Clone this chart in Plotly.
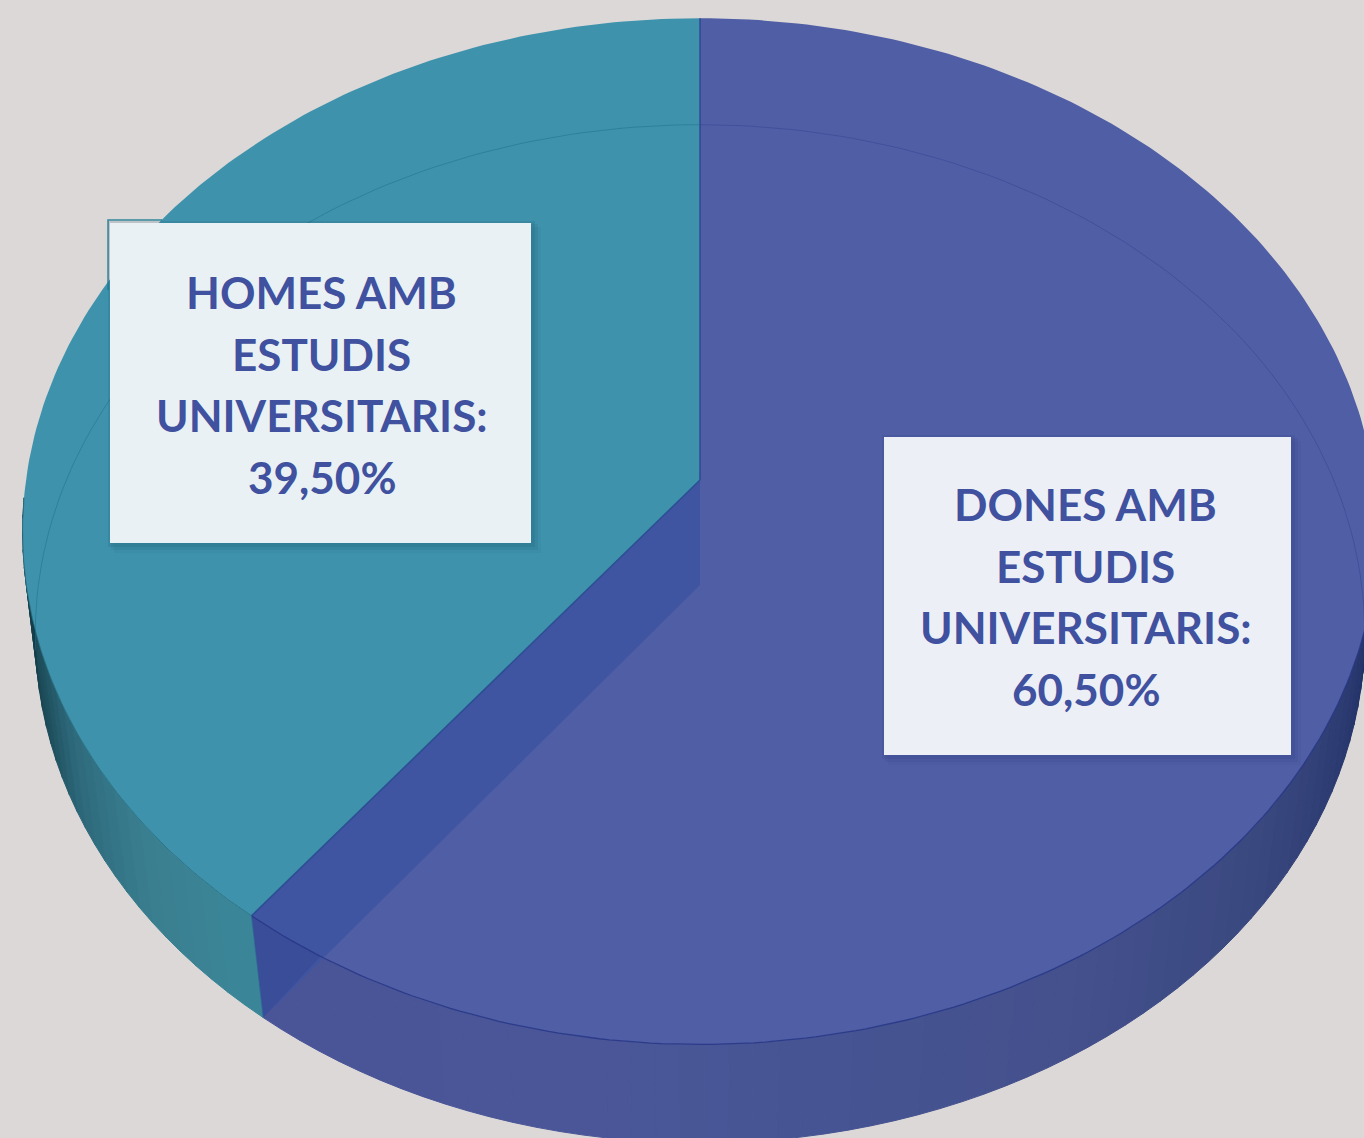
import numpy as np
import plotly.graph_objects as go

# ---- data ----
categories = ["DONES AMB ESTUDIS UNIVERSITARIS:", "HOMES AMB ESTUDIS UNIVERSITARIS:"]
shares = [60.50, 39.50]

# ---- style ----
BG = "#DBD8D7"
TOP_BLUE = "#4F5EA5"
TOP_TEAL = "#3F92AC"
CUT_BLUE = "#3F55A2"
TEXT = "#3F519F"

# Perspective model of the disc: (cx, cy, half width, half depth, perspective)
TOP_FACE = (700, 480, 674, 508, 0.100)
BOTTOM_FACE = (700, 588, 662, 505, 0.090)


def project(face, theta_deg):
    cx, cy, b, a, k = face
    t = np.radians(np.asarray(theta_deg, dtype=float))
    X, Y = np.sin(t), np.cos(t)
    w = 1 + k * Y
    return cx + b * X / w, cy - a * Y / w


def mix(stops, v):
    vs = [s[0] for s in stops]
    rgb = [np.interp(v, vs, [int(s[1][i:i + 2], 16) for s in stops]) for i in (1, 3, 5)]
    return "rgb(%d,%d,%d)" % tuple(rgb)


boundary = 360 * shares[0] / sum(shares)   # blue runs clockwise from 12 o'clock

fig = go.Figure()


def poly(x, y, fill, line=None, width=0):
    fig.add_trace(go.Scatter(
        x=list(x), y=list(y), mode="lines", fill="toself", fillcolor=fill,
        line=dict(color=line or fill, width=width), hoverinfo="skip", showlegend=False))


def stroke(x, y, color, width=1):
    fig.add_trace(go.Scatter(
        x=list(x), y=list(y), mode="lines", line=dict(color=color, width=width),
        hoverinfo="skip", showlegend=False))


def wall(t0, t1, stops, n):
    edges = np.linspace(t0, t1, n + 1)
    for a, b in zip(edges[:-1], edges[1:]):
        th = [a, b]
        xt, yt = project(TOP_FACE, th)
        xb, yb = project(BOTTOM_FACE, th)
        c = mix(stops, (a + b) / 2)
        poly([xt[0], xt[1], xb[1], xb[0], xt[0]], [yt[0], yt[1], yb[1], yb[0], yt[0]], c, c, 1)


# side walls
blue_wall = [(92, "#1A2A5A"), (98, "#1E2E62"), (106, "#26366C"), (116, "#2F3E74"),
             (128, "#3A4880"), (150, "#44518D"), (185, "#4A5798"), (boundary, "#4A5598")]
teal_wall = [(boundary, "#3A8799"), (231, "#3A7F90"), (243, "#2E6A7C"),
             (252, "#1F4F5D"), (262, "#163E4B"), (268, "#143A48")]
wall(92, boundary, blue_wall, 66)
wall(boundary, 268, teal_wall, 26)

# top faces
th_blue = np.linspace(0, boundary, 240)
th_teal = np.linspace(boundary, 360, 160)
xa, ya = project(TOP_FACE, th_blue)
poly([700, *xa, 700], [480, *ya, 480], TOP_BLUE)
xa, ya = project(TOP_FACE, th_teal)
poly([700, *xa, 700], [480, *ya, 480], TOP_TEAL)

# cut face seen through the blue slice
xt, yt = project(TOP_FACE, [boundary])
xb, yb = project(BOTTOM_FACE, [boundary])
poly([700, xt[0], xb[0], 700, 700], [480, yt[0], yb[0], 585, 480], CUT_BLUE)

# darker part of the cut face below the front rim of the top face
arc = np.linspace(boundary, boundary - 14, 40)
ax, ay = project(TOP_FACE, arc)
side = (ax - 700) * (yb[0] - 585) - (ay - 585) * (xb[0] - 700)
keep = side * side[1] > 0
poly([*ax[keep], xb[0], ax[0]], [*ay[keep], yb[0], ay[0]], "rgba(40,50,125,0.22)")

# thin edges
front = np.linspace(92, boundary, 160)
fx, fy = project(TOP_FACE, front)
stroke(fx, fy, "rgba(40,55,135,0.9)", 1.3)
fx, fy = project(TOP_FACE, np.linspace(boundary, 268, 60))
stroke(fx, fy, "rgba(40,115,135,0.8)", 1)
stroke([700, 700], [project(TOP_FACE, [0])[1][0], 480], "rgba(40,70,150,0.9)", 1.5)
stroke([700, xt[0]], [480, yt[0]], "rgba(40,75,145,0.9)", 1.5)
stroke([xt[0], xb[0]], [yt[0], yb[0]], "rgba(50,105,150,0.7)", 1)

# back edge of the bottom face showing through the disc
bx, by = project(BOTTOM_FACE, np.linspace(0, 97, 80))
stroke(bx, by, "rgba(45,60,140,0.40)", 1)
bx, by = project(BOTTOM_FACE, np.linspace(263, 360, 80))
stroke(bx, by, "rgba(30,115,140,0.55)", 1)

# ---- label boxes ----
boxes = [(884, 437, 1291, 755, "#ECEFF6", "rgba(40,50,120,0.22)", -2, 67),
         (110, 223, 531, 543, "#E9F1F4", "rgba(20,80,100,0.25)", 1, 69)]
shapes = []
annotations = []
for (x0, y0, x1, y1, col, shadow, dx, dy), cat, val in zip(boxes, categories, shares):
    for d, op in ((10, 0.25), (7, 0.40), (4, 0.6)):
        shapes.append(dict(type="rect", xref="x", yref="y", x0=x0 + d - 6, x1=x1 + d,
                           y0=y0 + d - 6, y1=y1 + d, fillcolor=shadow, opacity=op,
                           line=dict(width=0), layer="above"))
    shapes.append(dict(type="rect", xref="x", yref="y", x0=x0, x1=x1, y0=y0, y1=y1,
                       fillcolor=col, line=dict(width=0), layer="above"))
    words = cat.split()
    lines = [" ".join(words[:2]), words[2], words[3], f"{val:.2f}".replace(".", ",") + "%"]
    xc = (x0 + x1) / 2 + dx
    for i, txt in enumerate(lines):
        annotations.append(dict(
            x=xc, y=y0 + dy + 61.7 * i, xref="x", yref="y", text=txt, showarrow=False,
            xanchor="center", yanchor="middle",
            font=dict(family="Lato, Open Sans, sans-serif", size=44, color=TEXT, weight=700)))

# outline stub at the upper-left corner of the men's box
stroke([108, 108, 162], [290, 220, 220], "rgba(30,125,150,0.9)", 1.5)

fig.update_layout(
    width=1364, height=1138, autosize=False,
    margin=dict(l=0, r=0, t=0, b=0),
    paper_bgcolor=BG, plot_bgcolor=BG, showlegend=False,
    xaxis=dict(range=[0, 1364], visible=False, fixedrange=True),
    yaxis=dict(range=[1138, 0], visible=False, fixedrange=True),
    shapes=shapes, annotations=annotations,
)

fig.write_html("out.html", config=dict(displayModeBar=False),
               post_script="document.body.style.margin='0';document.body.style.overflow='hidden';"
                           "document.documentElement.style.background='%s';" % BG)
